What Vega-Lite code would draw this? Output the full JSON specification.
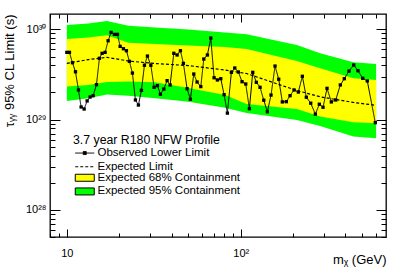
{
  "$schema": "https://vega.github.io/schema/vega-lite/v6.json",
  "width": 336,
  "height": 223,
  "autosize": {"type": "none"},
  "padding": {"left": 50, "top": 14, "right": 13, "bottom": 36},
  "background": "white",
  "datasets": {
    "bands": [
      {"m": 10, "gt": 1.116e30, "yt": 7.81e29, "exp": 4.20e29, "yb": 2.32e29, "gb": 1.61e29},
      {"m": 13.3, "gt": 1.159e30, "yt": 8.11e29, "exp": 4.63e29, "yb": 2.42e29, "gb": 1.72e29},
      {"m": 17, "gt": 1.236e30, "yt": 8.58e29, "exp": 4.90e29, "yb": 2.61e29, "gb": 1.90e29},
      {"m": 22.6, "gt": 1.096e30, "yt": 7.11e29, "exp": 4.46e29, "yb": 2.64e29, "gb": 1.84e29},
      {"m": 32.2, "gt": 1.047e30, "yt": 6.88e29, "exp": 4.18e29, "yb": 2.59e29, "gb": 1.72e29},
      {"m": 50, "gt": 9.95e29, "yt": 6.62e29, "exp": 3.97e29, "yb": 2.24e29, "gb": 1.58e29},
      {"m": 81.2, "gt": 9.26e29, "yt": 6.37e29, "exp": 3.54e29, "yb": 1.87e29, "gb": 1.35e29},
      {"m": 108, "gt": 8.80e29, "yt": 6.05e29, "exp": 3.24e29, "yb": 1.49e29, "gb": 1.18e29},
      {"m": 210, "gt": 6.70e29, "yt": 4.46e29, "exp": 2.10e29, "yb": 1.31e29, "gb": 9.91e28},
      {"m": 286, "gt": 5.43e29, "yt": 3.70e29, "exp": 1.79e29, "yb": 1.08e29, "gb": 8.51e28},
      {"m": 444, "gt": 4.31e29, "yt": 2.87e29, "exp": 1.55e29, "yb": 9.35e28, "gb": 6.48e28},
      {"m": 600, "gt": 4.13e29, "yt": 2.75e29, "exp": 1.44e29, "yb": 9.11e28, "gb": 6.22e28}
    ],
    "obs": [
      {"m": 10.00, "t": 5.56e29}, {"m": 10.35, "t": 5.56e29}, {"m": 10.77, "t": 4.27e29}, {"m": 11.21, "t": 3.39e29},
      {"m": 11.66, "t": 2.13e29}, {"m": 12.08, "t": 1.38e29}, {"m": 12.57, "t": 1.31e29}, {"m": 13.08, "t": 1.61e29},
      {"m": 13.61, "t": 1.78e29}, {"m": 14.16, "t": 1.84e29}, {"m": 14.80, "t": 2.44e29}, {"m": 15.39, "t": 4.78e29},
      {"m": 15.95, "t": 5.43e29}, {"m": 16.60, "t": 5.56e29}, {"m": 17.27, "t": 7.48e29}, {"m": 17.97, "t": 9.26e29},
      {"m": 18.77, "t": 8.80e29}, {"m": 19.54, "t": 8.80e29}, {"m": 20.25, "t": 6.48e29}, {"m": 21.15, "t": 6.10e29},
      {"m": 22.00, "t": 5.80e29}, {"m": 22.89, "t": 4.42e29}, {"m": 23.82, "t": 3.28e29}, {"m": 24.79, "t": 1.65e29},
      {"m": 25.79, "t": 1.45e29}, {"m": 26.84, "t": 2.11e29}, {"m": 27.93, "t": 4.00e29}, {"m": 29.06, "t": 5.06e29},
      {"m": 30.40, "t": 4.00e29}, {"m": 31.75, "t": 2.28e29}, {"m": 33.17, "t": 2.38e29}, {"m": 34.51, "t": 1.91e29},
      {"m": 36.10, "t": 2.18e29}, {"m": 37.71, "t": 2.70e29}, {"m": 39.24, "t": 2.42e29}, {"m": 41.21, "t": 5.43e29},
      {"m": 43.05, "t": 5.20e29}, {"m": 44.97, "t": 5.80e29}, {"m": 46.79, "t": 4.20e29}, {"m": 49.13, "t": 2.20e29},
      {"m": 51.32, "t": 1.68e29}, {"m": 53.69, "t": 3.20e29}, {"m": 56.09, "t": 2.61e29}, {"m": 58.90, "t": 2.32e29},
      {"m": 61.29, "t": 4.69e29}, {"m": 64.28, "t": 5.20e29}, {"m": 67.24, "t": 8.01e29}, {"m": 70.24, "t": 2.91e29},
      {"m": 73.38, "t": 2.75e29}, {"m": 76.75, "t": 2.84e29}, {"m": 80.18, "t": 1.89e29}, {"m": 83.76, "t": 1.18e29},
      {"m": 88.31, "t": 3.34e29}, {"m": 92.37, "t": 3.73e29}, {"m": 96.87, "t": 3.37e29}, {"m": 101.7, "t": 2.63e29},
      {"m": 106.8, "t": 2.48e29}, {"m": 112.1, "t": 1.32e29}, {"m": 117.2, "t": 3.34e29}, {"m": 122.9, "t": 2.59e29},
      {"m": 129.1, "t": 2.28e29}, {"m": 135.6, "t": 1.64e29}, {"m": 142.2, "t": 1.22e29}, {"m": 149.3, "t": 1.87e29},
      {"m": 157.4, "t": 3.92e29}, {"m": 165.3, "t": 2.80e29}, {"m": 173.4, "t": 1.57e29}, {"m": 182.8, "t": 1.58e29},
      {"m": 192.0, "t": 1.84e29}, {"m": 202.5, "t": 2.13e29}, {"m": 214.3, "t": 2.02e29}, {"m": 226.0, "t": 3.02e29},
      {"m": 238.2, "t": 1.77e29}, {"m": 252.5, "t": 1.52e29}, {"m": 268.4, "t": 1.15e29}, {"m": 283.0, "t": 1.48e29},
      {"m": 297.2, "t": 1.37e29}, {"m": 313.3, "t": 2.22e29}, {"m": 331.7, "t": 1.57e29}, {"m": 351.6, "t": 1.65e29},
      {"m": 373.6, "t": 2.42e29}, {"m": 393.9, "t": 2.84e29}, {"m": 419.2, "t": 3.45e29}, {"m": 446.1, "t": 4.03e29},
      {"m": 472.2, "t": 3.48e29}, {"m": 502.5, "t": 2.87e29}, {"m": 534.0, "t": 2.68e29}, {"m": 593.6, "t": 9.25e28}
    ]
  },
  "layer": [
    {
      "data": {"name": "bands"},
      "mark": {"type": "area", "opacity": 1},
      "encoding": {
        "x": {
          "field": "m", "type": "quantitative",
          "scale": {"type": "log", "domain": [8, 684], "nice": false, "zero": false},
          "axis": {
            "orient": "bottom",
            "values": [8, 9, 10, 20, 30, 40, 50, 60, 70, 80, 90, 100, 200, 300, 400, 500, 600],
            "labelExpr": "datum.value == 10 ? '10' : datum.value == 100 ? '10²' : ''",
            "tickSize": {"condition": {"test": "datum.value == 10 || datum.value == 100", "value": -8}, "value": -4},
            "labelPadding": 18,
            "title": "mᵪ (GeV)",
            "titleAnchor": "end",
            "titleAlign": "right",
            "titleX": 336,
            "titleY": 26,
            "titleBaseline": "alphabetic",
            "titleAngle": 0
          }
        },
        "y": {
          "field": "gt", "type": "quantitative",
          "scale": {"type": "log", "domain": [5e27, 1.48e30], "nice": false, "zero": false},
          "axis": {
            "orient": "left",
            "values": [5e27, 6e27, 7e27, 8e27, 9e27, 1e28, 2e28, 3e28, 4e28, 5e28, 6e28, 7e28, 8e28, 9e28, 1e29, 2e29, 3e29, 4e29, 5e29, 6e29, 7e29, 8e29, 9e29, 1e30],
            "labelExpr": "datum.value == 1e28 ? '10²⁸' : datum.value == 1e29 ? '10²⁹' : datum.value == 1e30 ? '10³⁰' : ''",
            "tickSize": {"condition": {"test": "datum.value == 1e28 || datum.value == 1e29 || datum.value == 1e30", "value": -10}, "value": -5},
            "labelPadding": 14,
            "title": "τᵧᵧ 95% CL Limit (s)",
            "titleAnchor": "end",
            "titleX": -41,
            "titleY": 0,
            "titleAngle": 270,
            "titleAlign": "right",
            "titleBaseline": "middle"
          }
        },
        "y2": {"field": "gb"},
        "fill": {
          "datum": "Expected 95% Containment",
          "scale": {"domain": ["Expected 68% Containment", "Expected 95% Containment"], "range": ["#ffff00", "#00ff00"]},
          "legend": {
            "orient": "none", "legendX": 23, "legendY": 158, "padding": 0,
            "title": null,
            "symbolType": "M-1.9,-0.7H1.9V0.7H-1.9Z", "symbolSize": 100, "symbolOffset": 6,
            "symbolStrokeColor": "black", "symbolStrokeWidth": 1, "symbolOpacity": 1,
            "rowPadding": 0.7, "labelOffset": 7,
            "labelFontSize": 11.5, "labelColor": "black", "labelLimit": 300
          }
        }
      }
    },
    {
      "data": {"name": "bands"},
      "mark": {"type": "area", "opacity": 1},
      "encoding": {
        "x": {
          "field": "m", "type": "quantitative",
          "scale": {"type": "log", "domain": [8, 684], "nice": false, "zero": false},
          "axis": {
            "orient": "top", "labels": false, "title": null,
            "values": [8, 9, 10, 20, 30, 40, 50, 60, 70, 80, 90, 100, 200, 300, 400, 500, 600],
            "tickSize": {"condition": {"test": "datum.value == 10 || datum.value == 100", "value": -8}, "value": -4}
          }
        },
        "y": {
          "field": "yt", "type": "quantitative",
          "scale": {"type": "log", "domain": [5e27, 1.48e30], "nice": false, "zero": false},
          "axis": {
            "orient": "right", "labels": false, "title": null,
            "values": [5e27, 6e27, 7e27, 8e27, 9e27, 1e28, 2e28, 3e28, 4e28, 5e28, 6e28, 7e28, 8e28, 9e28, 1e29, 2e29, 3e29, 4e29, 5e29, 6e29, 7e29, 8e29, 9e29, 1e30],
            "tickSize": {"condition": {"test": "datum.value == 1e28 || datum.value == 1e29 || datum.value == 1e30", "value": -10}, "value": -5}
          }
        },
        "y2": {"field": "yb"},
        "fill": {"datum": "Expected 68% Containment"}
      }
    },
    {
      "data": {"name": "bands"},
      "mark": {"type": "line", "color": "black", "strokeWidth": 1.2},
      "encoding": {
        "x": {"field": "m", "type": "quantitative", "scale": {"type": "log", "domain": [8, 684], "nice": false, "zero": false}, "axis": null},
        "y": {"field": "exp", "type": "quantitative", "scale": {"type": "log", "domain": [5e27, 1.48e30], "nice": false, "zero": false}, "axis": null},
        "strokeDash": {"datum": "Expected Limit"}
      }
    },
    {
      "data": {"name": "obs"},
      "mark": {"type": "line", "color": "black", "strokeWidth": 1, "point": {"shape": "square", "filled": true, "size": 11, "color": "black"}},
      "encoding": {
        "x": {"field": "m", "type": "quantitative", "scale": {"type": "log", "domain": [8, 684], "nice": false, "zero": false}, "axis": null},
        "y": {"field": "t", "type": "quantitative", "scale": {"type": "log", "domain": [5e27, 1.48e30], "nice": false, "zero": false}, "axis": null},
        "strokeDash": {
          "datum": "Observed Lower Limit",
          "scale": {"domain": ["Observed Lower Limit", "Expected Limit"], "range": [[1, 0], [3, 2]]},
          "legend": {
            "orient": "none", "legendX": 23, "legendY": 120, "padding": 0,
            "title": "3.7 year R180 NFW Profile",
            "titleFontSize": 12.3, "titleFontWeight": "normal", "titleColor": "black", "titlePadding": 1, "titleLimit": 300,
            "symbolType": "M-1.9,0H1.9", "symbolSize": 100, "symbolOffset": 6,
            "symbolStrokeColor": "black", "symbolStrokeWidth": 1,
            "rowPadding": 0.7, "labelOffset": 7,
            "labelFontSize": 11.5, "labelColor": "black", "labelLimit": 300,
            "encoding": {
              "symbols": {
                "shape": {"condition": {"test": "datum.label == 'Observed Lower Limit'", "value": "M-1.9,0H1.9M-0.3,-0.3H0.3V0.3H-0.3Z"}, "value": "M-1.9,0H1.9"},
                "fill": {"value": "black"},
                "stroke": {"value": "black"}
              }
            }
          }
        }
      }
    }
  ],
  "resolve": {"axis": {"x": "independent", "y": "independent"}},
  "config": {
    "font": "Liberation Sans",
    "view": {"stroke": "black", "strokeWidth": 1.3},
    "axis": {
      "grid": false, "domain": false, "tickColor": "black", "tickWidth": 1,
      "labelColor": "black", "labelFontSize": 11, "labelOverlap": false, "labelFlush": false,
      "titleColor": "black", "titleFontWeight": "normal", "titleFontSize": 13
    },
    "legend": {"labelFont": "Liberation Sans", "titleFont": "Liberation Sans"}
  }
}
